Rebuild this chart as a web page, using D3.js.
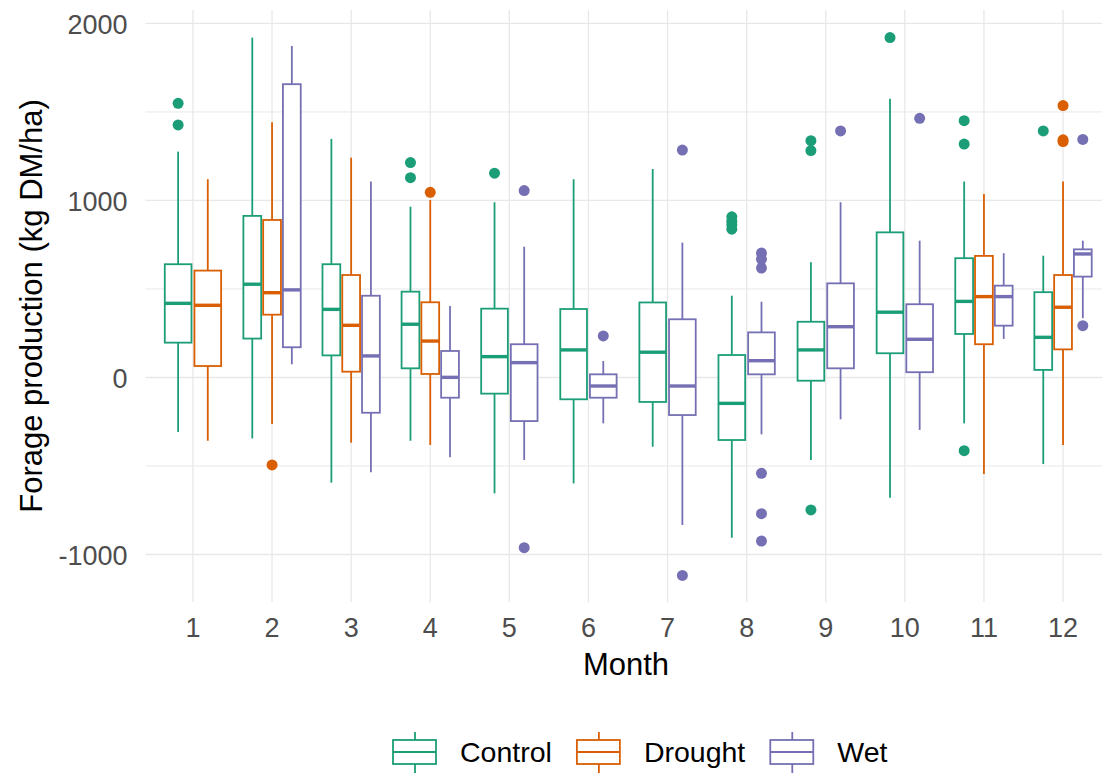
<!DOCTYPE html>
<html>
<head>
<meta charset="utf-8">
<script src="https://cdn.jsdelivr.net/npm/d3@7"></script>
<style>
  body { margin: 0; background: #fff; }
  text { font-family: "Liberation Sans", Arial, sans-serif; }
</style>
</head>
<body>
<div id="chart"></div>
<script>
// data: [lower whisker, q1, median, q3, upper whisker], null = no box
const months = [1, 2, 3, 4, 5, 6, 7, 8, 9, 10, 11, 12];
const groups = ["Control", "Drought", "Wet"];
const colors = ["#1B9E77", "#D95F02", "#7570B3"];

const controlStats = [
  [-311, 194, 416, 637, 1273],
  [-347, 217, 524, 910, 1917],
  [-597, 122, 382, 637, 1345],
  [-360, 49, 298, 482, 962],
  [-657, -94, 115, 386, 987],
  [-601, -126, 153, 384, 1117],
  [-394, -141, 140, 421, 1175],
  [-908, -356, -149, 124, 459],
  [-469, -21, 153, 312, 648],
  [-682, 134, 366, 817, 1571],
  [-262, 243, 427, 671, 1104],
  [-492, 40, 224, 479, 685]
];
const droughtStats = [
  [-360, 62, 405, 601, 1117],
  [-266, 352, 476, 887, 1439],
  [-371, 30, 292, 576, 1239],
  [-384, 17, 203, 422, 1000],
  null, null, null, null, null, null,
  [-548, 185, 454, 684, 1034],
  [-384, 156, 394, 576, 1104]
];
const wetStats = [
  null,
  [72, 168, 492, 1654, 1870],
  [-538, -202, 119, 459, 1104],
  [-454, -117, -2, 147, 401],
  [-469, -249, 81, 185, 736],
  [-262, -117, -51, 15, 90],
  [-836, -215, -51, 326, 759],
  [-324, 15, 92, 252, 425],
  [-239, 49, 284, 529, 987],
  [-299, 27, 213, 411, 770],
  [215, 290, 454, 516, 699],
  [332, 567, 695, 721, 770]
];

const controlOut = [[1546, 1424], [], [], [1211, 1126], [1151], [], [], [905, 880, 860, 835], [1335, 1279, -751], [1917], [1448, 1316, -416], [1390]];
const droughtOut = [[], [-497], [], [1043], [], [], [], [], [], [], [], [1533, 1340, 1330]];
const wetOut = [[], [], [], [], [1053, -964], [232], [1282, -1121], [700, 665, 615, -544, -772, -927], [1390], [1461], [], [1342, 290]];

const yMajor = [-1000, 0, 1000, 2000];
const yMinor = [-500, 500, 1500];

const allStats = [controlStats, droughtStats, wetStats];
const allOut = [controlOut, droughtOut, wetOut];

//layout
const W = 1102, H = 774;
const pLeft = 145.5, pRight = 1110.5, pTop = 10, pBottom = 602;

const svg = d3.select("#chart").append("svg").attr("width", W).attr("height", H);

const x = d3.scaleBand().domain(months).range([pLeft, pRight]).paddingInner(0).paddingOuter(0.1);
const y = d3.scaleLinear().domain([-1271, 2073]).range([pBottom, pTop]);
const step = x.step();

//grid
function styleGrid(g, w) {
  g.select(".domain").remove();
  g.selectAll("line").attr("stroke", "#e8e8e8").attr("stroke-width", w);
}
svg.append("g").attr("transform", `translate(${pLeft},0)`)
  .call(d3.axisLeft(y).tickValues(yMinor).tickSize(-(pRight - pLeft)).tickFormat(""))
  .call(g => styleGrid(g, 1));
svg.append("g").attr("transform", `translate(${pLeft},0)`)
  .call(d3.axisLeft(y).tickValues(yMajor).tickSize(-(pRight - pLeft)).tickFormat(""))
  .call(g => styleGrid(g, 1.3));
svg.append("g").attr("transform", `translate(0,${pBottom})`)
  .call(d3.axisBottom(x).tickSize(-(pBottom - pTop)).tickFormat(""))
  .call(g => styleGrid(g, 1.3));

//axis labels
svg.append("g").attr("transform", `translate(${pLeft},0)`)
  .call(d3.axisLeft(y).tickValues(yMajor).tickSize(0).tickPadding(18).tickFormat(d => String(d)))
  .call(g => g.select(".domain").remove())
  .call(g => g.selectAll("text").attr("font-size", 27).attr("fill", "#4d4d4d")
    .attr("font-family", "Liberation Sans, Arial, sans-serif").attr("dy", "0.4em"));
svg.append("g").attr("transform", `translate(0,${pBottom})`)
  .call(d3.axisBottom(x).tickSize(0).tickPadding(16))
  .call(g => g.select(".domain").remove())
  .call(g => g.selectAll("text").attr("font-size", 27).attr("fill", "#4d4d4d")
    .attr("font-family", "Liberation Sans, Arial, sans-serif"));

svg.append("text").attr("x", (pLeft + pRight) / 2 - 2).attr("y", 675)
  .attr("text-anchor", "middle").attr("font-size", 31).attr("fill", "#000").text("Month");
svg.append("text").attr("transform", `translate(42,${(pTop + pBottom) / 2}) rotate(-90)`)
  .attr("text-anchor", "middle").attr("font-size", 31).attr("fill", "#000")
  .text("Forage production (kg DM/ha)");

//boxes
const boxes = [], points = [];
months.forEach((m, mi) => {
  const present = [0, 1, 2].filter(gi => allStats[gi][mi] != null);
  const n = present.length;
  const slot = 0.75 * step / n;
  present.forEach((gi, k) => {
    const cx = x(m) + step / 2 + (k - (n - 1) / 2) * slot;
    const s = allStats[gi][mi];
    boxes.push({cx: cx, hw: slot * 0.9 / 2, s: s, color: colors[gi]});
    allOut[gi][mi].forEach(v => points.push({cx: cx, v: v, color: colors[gi]}));
  });
});

const bg = svg.append("g").selectAll("g").data(boxes).join("g");
bg.append("line").attr("x1", d => d.cx).attr("x2", d => d.cx)
  .attr("y1", d => y(d.s[4])).attr("y2", d => y(d.s[3]))
  .attr("stroke", d => d.color).attr("stroke-width", 1.8);
bg.append("line").attr("x1", d => d.cx).attr("x2", d => d.cx)
  .attr("y1", d => y(d.s[1])).attr("y2", d => y(d.s[0]))
  .attr("stroke", d => d.color).attr("stroke-width", 1.8);
bg.append("rect").attr("x", d => d.cx - d.hw).attr("width", d => d.hw * 2)
  .attr("y", d => y(d.s[3])).attr("height", d => y(d.s[1]) - y(d.s[3]))
  .attr("fill", "#fff").attr("stroke", d => d.color).attr("stroke-width", 1.8);
bg.append("line").attr("x1", d => d.cx - d.hw).attr("x2", d => d.cx + d.hw)
  .attr("y1", d => y(d.s[2])).attr("y2", d => y(d.s[2]))
  .attr("stroke", d => d.color).attr("stroke-width", 3.4);

svg.append("g").selectAll("circle").data(points).join("circle")
  .attr("cx", d => d.cx).attr("cy", d => y(d.v)).attr("r", 5.5)
  .attr("fill", d => d.color);

//legend
const leg = svg.append("g");
let lx = 393;
groups.forEach((name, gi) => {
  const c = colors[gi];
  leg.append("line").attr("x1", lx + 22).attr("x2", lx + 22).attr("y1", 732).attr("y2", 773)
    .attr("stroke", c).attr("stroke-width", 1.8);
  leg.append("rect").attr("x", lx).attr("y", 740).attr("width", 43).attr("height", 24)
    .attr("fill", "#fff").attr("stroke", c).attr("stroke-width", 1.8);
  leg.append("line").attr("x1", lx).attr("x2", lx + 43).attr("y1", 752).attr("y2", 752)
    .attr("stroke", c).attr("stroke-width", 1.8);
  const t = leg.append("text").attr("x", lx + 67).attr("y", 762)
    .attr("font-size", 28.5).attr("fill", "#000").text(name);
  lx = lx + 67 + t.node().getComputedTextLength() + 25;
});
</script>
</body>
</html>
